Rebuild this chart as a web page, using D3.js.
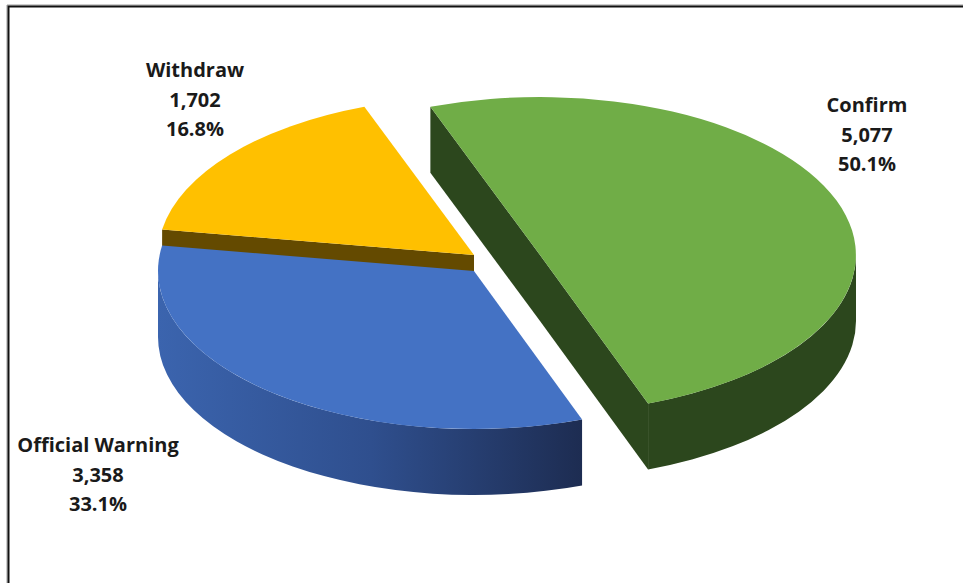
<!DOCTYPE html>
<html>
<head>
<meta charset="utf-8">
<script src="https://cdn.jsdelivr.net/npm/d3@7"></script>
<style>
  html, body { margin: 0; padding: 0; background: #fff; }
  svg { display: block; }
</style>
</head>
<body>
<svg id="chart" width="963" height="583"></svg>
<script>
// ---- data ----
const categories = ["Confirm", "Official Warning", "Withdraw"];
const values = [5077, 3358, 1702];

// ---- styles / layout (not data) ----
const topColors  = ["#70AD47", "#4472C4", "#FFC000"];
const sideColors = ["#2C471D", "url(#blueSide)", "#644A00"];
const faceColors = ["#2C471D", "#22355F", "#644A00"];
const explode = [[66, -16], [0, 0], [0, -16]];           // screen offsets per slice
const labelPos = [[867, 112], [98, 452], [195, 77]];     // label first-line baseline
const base = { cx: 474, cy: 271, rx: 316, ry: 158, depth: 66 };
const startDeg = -20.3;

const svg = d3.select("#chart");
const W = 963, H = 583;

// gradient for blue side wall
const defs = svg.append("defs");
const g1 = defs.append("linearGradient").attr("id", "blueSide")
  .attr("gradientUnits", "userSpaceOnUse")
  .attr("x1", base.cx - base.rx).attr("x2", base.cx + 110).attr("y1", 0).attr("y2", 0);
g1.append("stop").attr("offset", "0").attr("stop-color", "#3B64AE");
g1.append("stop").attr("offset", "0.5").attr("stop-color", "#2F4F8E");
g1.append("stop").attr("offset", "1").attr("stop-color", "#1D2C51");

// border
svg.append("path").attr("d", `M7,${H} V5 H${W}`).attr("fill", "none")
  .attr("stroke", "#9a9a9a").attr("stroke-width", 1);
svg.append("path").attr("d", `M8.5,${H} V6.5 H${W}`).attr("fill", "none")
  .attr("stroke", "#111").attr("stroke-width", 2);

// pie layout
const total = d3.sum(values);
const pie = d3.pie().sort(null).value(d => d)
  .startAngle(startDeg * Math.PI / 180)
  .endAngle(startDeg * Math.PI / 180 + 2 * Math.PI);
const arcs = pie(values).map((a, i) => ({
  ...a, i, name: categories[i],
  cx: base.cx + explode[i][0], cy: base.cy + explode[i][1]
}));

const pt = (s, ang, dy = 0) => [s.cx + base.rx * Math.sin(ang), s.cy - base.ry * Math.cos(ang) + dy];
const f = p => p[0].toFixed(2) + "," + p[1].toFixed(2);

function topPath(s) {
  const a = s.startAngle, b = s.endAngle;
  const large = (b - a) > Math.PI ? 1 : 0;
  return `M${s.cx},${s.cy} L${f(pt(s, a))} A${base.rx},${base.ry} 0 ${large} 1 ${f(pt(s, b))} Z`;
}
function wallPath(s) {
  let a = s.startAngle, b = s.endAngle;
  const segs = [];
  for (let k = -1; k <= 1; k++) {
    const lo = Math.PI / 2 + 2 * Math.PI * k, hi = 3 * Math.PI / 2 + 2 * Math.PI * k;
    const s0 = Math.max(a, lo), s1 = Math.min(b, hi);
    if (s1 > s0 + 1e-6) segs.push([s0, s1]);
  }
  return segs.map(([s0, s1]) => {
    const large = (s1 - s0) > Math.PI ? 1 : 0;
    const d = base.depth;
    return `M${f(pt(s, s0))} A${base.rx},${base.ry} 0 ${large} 1 ${f(pt(s, s1))} ` +
           `L${f(pt(s, s1, d))} A${base.rx},${base.ry} 0 ${large} 0 ${f(pt(s, s0, d))} Z`;
  }).join(" ");
}
function facePath(s, ang) {
  const d = base.depth, p = pt(s, ang);
  return `M${s.cx},${s.cy} L${f(p)} L${p[0].toFixed(2)},${(p[1] + d).toFixed(2)} L${s.cx},${s.cy + d} Z`;
}

const order = arcs.slice().sort((p, q) => {
  const mp = (p.startAngle + p.endAngle) / 2, mq = (q.startAngle + q.endAngle) / 2;
  return (-Math.cos(mp)) - (-Math.cos(mq));
});

const gPie = svg.append("g");
order.forEach(s => {
  const g = gPie.append("g").attr("class", "slice");
  if (Math.sin(s.startAngle) < 0)
    g.append("path").attr("d", facePath(s, s.startAngle)).attr("fill", faceColors[s.i]);
  if (Math.sin(s.endAngle) > 0)
    g.append("path").attr("d", facePath(s, s.endAngle)).attr("fill", faceColors[s.i]);
  const w = wallPath(s);
  if (w) g.append("path").attr("d", w).attr("fill", sideColors[s.i]);
  g.append("path").attr("d", topPath(s)).attr("fill", topColors[s.i]);
});

// labels
const fmt = d3.format(",");
const gl = svg.append("g")
  .attr("font-family", "'Open Sans', Lato, sans-serif")
  .attr("font-weight", "bold").attr("font-size", 20).attr("fill", "#1a1a1a")
  .attr("text-anchor", "middle");
arcs.forEach(s => {
  const [x, y] = labelPos[s.i];
  const lines = [s.name, fmt(s.data), (s.data / total * 100).toFixed(1) + "%"];
  lines.forEach((t, k) => {
    gl.append("text").attr("x", x).attr("y", y + k * 29.5).text(t);
  });
});
</script>
</body>
</html>
